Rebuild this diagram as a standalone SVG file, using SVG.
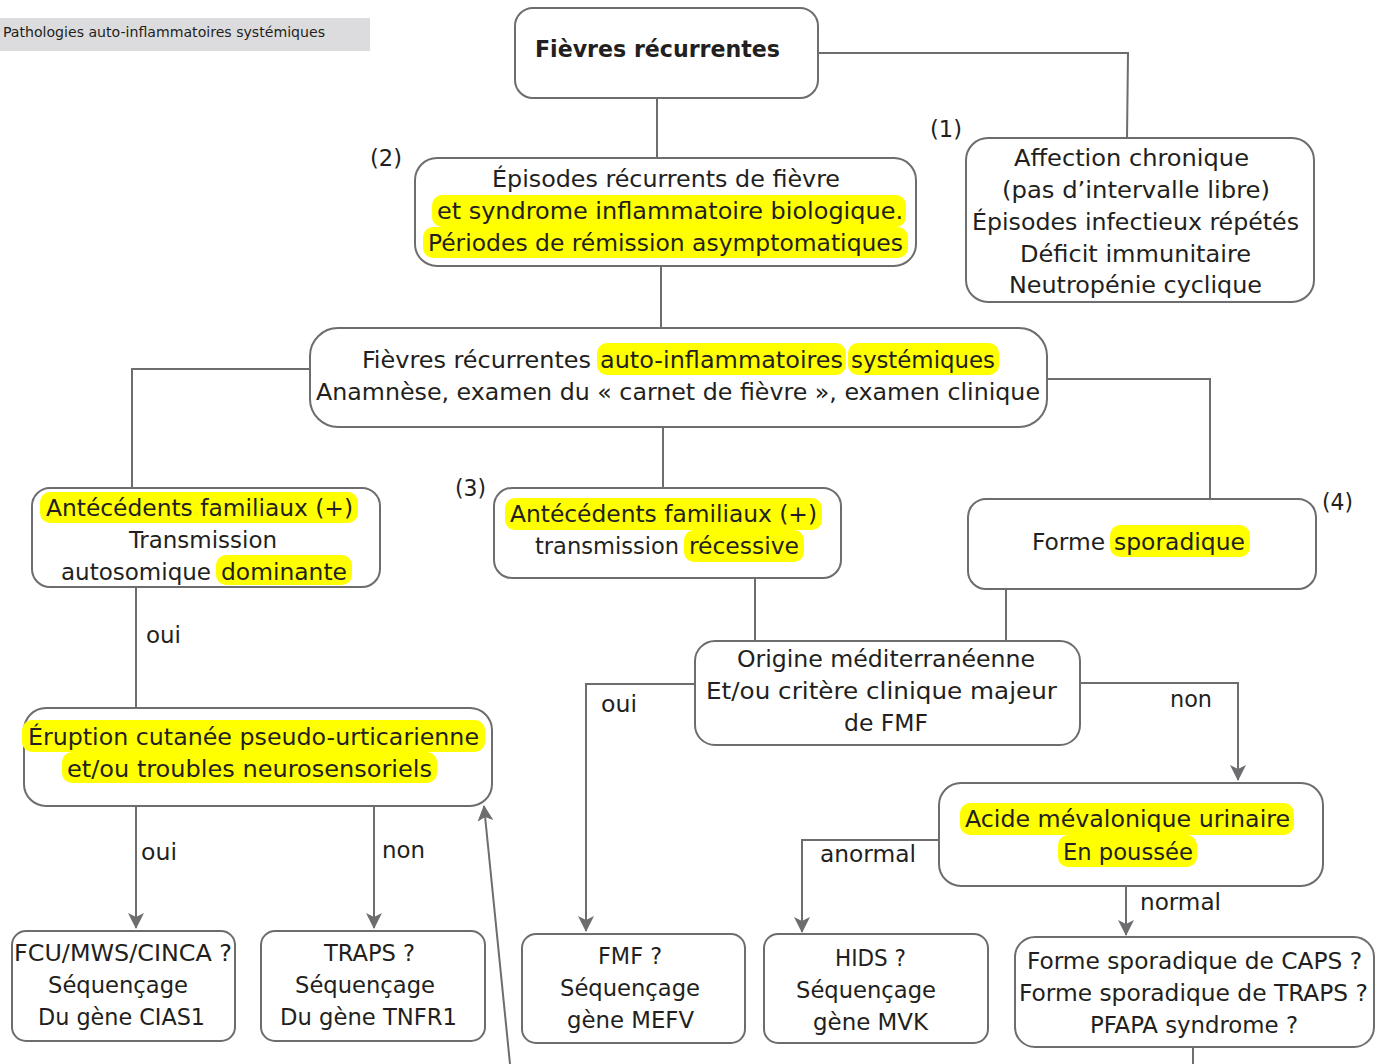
<svg xmlns="http://www.w3.org/2000/svg" width="1375" height="1064" viewBox="0 0 1375 1064">
<style>
.box{fill:#fff;stroke:#6d6d70;stroke-width:2}
.ln{fill:none;stroke:#6d6d70;stroke-width:2}
.hl{fill:#ffff00}
text{font-family:"DejaVu Sans Condensed","DejaVu Sans",sans-serif;font-size:23px;fill:#231f20}
.b{font-weight:bold}
.sm{font-size:14px}
</style>
<defs>
<marker id="ah2" viewBox="0 0 16 16" refX="15" refY="8" markerWidth="16" markerHeight="16" markerUnits="userSpaceOnUse" orient="auto">
<path d="M0,0 L16,8 L0,16 L4,8 Z" fill="#6d6d70"/>
</marker>
</defs>
<rect x="0" y="18" width="370" height="33" fill="#dcdcde"/>
<text class="sm" x="3" y="37" textLength="322" lengthAdjust="spacingAndGlyphs">Pathologies auto-inflammatoires systémiques</text>
<g id="connectors">
<path class="ln" d="M818,53 H1128 L1127,138"/>
<path class="ln" d="M657,98 V158"/>
<path class="ln" d="M661,266 V328"/>
<path class="ln" d="M310,369 H132 V488"/>
<path class="ln" d="M1047,379 H1210 V499"/>
<path class="ln" d="M663,427 V488"/>
<path class="ln" d="M136,587 V708"/>
<path class="ln" d="M136,806 V928" marker-end="url(#ah2)"/>
<path class="ln" d="M374,806 V928" marker-end="url(#ah2)"/>
<path class="ln" d="M510,1064 L484,806" marker-end="url(#ah2)"/>
<path class="ln" d="M755,578 V641"/>
<path class="ln" d="M1006,589 V641"/>
<path class="ln" d="M695,684 H586 V931" marker-end="url(#ah2)"/>
<path class="ln" d="M1080,683 H1238 V780" marker-end="url(#ah2)"/>
<path class="ln" d="M939,840 H802 V932" marker-end="url(#ah2)"/>
<path class="ln" d="M1126,886 V935" marker-end="url(#ah2)"/>
<path class="ln" d="M1193,1047 V1064"/>
<text x="146" y="643" textLength="35" lengthAdjust="spacingAndGlyphs">oui</text>
<text x="141" y="860" textLength="36" lengthAdjust="spacingAndGlyphs">oui</text>
<text x="382" y="858" textLength="43" lengthAdjust="spacingAndGlyphs">non</text>
<text x="601" y="712" textLength="36" lengthAdjust="spacingAndGlyphs">oui</text>
<text x="1170" y="707" textLength="42" lengthAdjust="spacingAndGlyphs">non</text>
<text x="820" y="862" textLength="96" lengthAdjust="spacingAndGlyphs">anormal</text>
<text x="1140" y="910" textLength="81" lengthAdjust="spacingAndGlyphs">normal</text>
<text x="370" y="166" textLength="32" lengthAdjust="spacingAndGlyphs">(2)</text>
<text x="930" y="137" textLength="32" lengthAdjust="spacingAndGlyphs">(1)</text>
<text x="455" y="496" textLength="31" lengthAdjust="spacingAndGlyphs">(3)</text>
<text x="1322" y="510" textLength="31" lengthAdjust="spacingAndGlyphs">(4)</text>
</g>
<g id="n-fievres">
<rect class="box" x="515" y="8" width="303" height="90" rx="18"/>
<text class="b" x="535" y="57" textLength="245" lengthAdjust="spacingAndGlyphs">Fièvres récurrentes</text>
</g>
<g id="n-episodes">
<rect class="box" x="415" y="158" width="501" height="108" rx="22"/>
<rect class="hl" x="432" y="195" width="474" height="32" rx="10"/>
<rect class="hl" x="423" y="227" width="485" height="31" rx="10"/>
<text x="492" y="187" textLength="348" lengthAdjust="spacingAndGlyphs">Épisodes récurrents de fièvre</text>
<text x="437" y="219" textLength="466" lengthAdjust="spacingAndGlyphs">et syndrome inflammatoire biologique.</text>
<text x="428" y="251" textLength="475" lengthAdjust="spacingAndGlyphs">Périodes de rémission asymptomatiques</text>
</g>
<g id="n-chronique">
<rect class="box" x="966" y="138" width="348" height="164" rx="22"/>
<text x="1014" y="166" textLength="235" lengthAdjust="spacingAndGlyphs">Affection chronique</text>
<text x="1002" y="198" textLength="268" lengthAdjust="spacingAndGlyphs">(pas d’intervalle libre)</text>
<text x="972" y="230" textLength="327" lengthAdjust="spacingAndGlyphs">Épisodes infectieux répétés</text>
<text x="1020" y="262" textLength="231" lengthAdjust="spacingAndGlyphs">Déficit immunitaire</text>
<text x="1009" y="293" textLength="253" lengthAdjust="spacingAndGlyphs">Neutropénie cyclique</text>
</g>
<g id="n-autoinfl">
<rect class="box" x="310" y="328" width="737" height="99" rx="28"/>
<rect class="hl" x="597" y="343" width="249" height="32" rx="10"/>
<rect class="hl" x="848" y="343" width="151" height="32" rx="10"/>
<text x="362" y="368" textLength="229" lengthAdjust="spacingAndGlyphs">Fièvres récurrentes</text>
<text x="600" y="368" textLength="243" lengthAdjust="spacingAndGlyphs">auto-inflammatoires</text>
<text x="851" y="368" textLength="144" lengthAdjust="spacingAndGlyphs">systémiques</text>
<text x="316" y="400" textLength="724" lengthAdjust="spacingAndGlyphs">Anamnèse, examen du « carnet de fièvre », examen clinique</text>
</g>
<g id="n-dominante">
<rect class="box" x="32" y="488" width="348" height="99" rx="18"/>
<rect class="hl" x="40" y="492" width="318" height="31" rx="10"/>
<rect class="hl" x="216" y="555" width="136" height="30" rx="10"/>
<text x="46" y="516" textLength="307" lengthAdjust="spacingAndGlyphs">Antécédents familiaux (+)</text>
<text x="129" y="548" textLength="148" lengthAdjust="spacingAndGlyphs">Transmission</text>
<text x="61" y="580" textLength="150" lengthAdjust="spacingAndGlyphs">autosomique</text>
<text x="221" y="580" textLength="126" lengthAdjust="spacingAndGlyphs">dominante</text>
</g>
<g id="n-recessive">
<rect class="box" x="494" y="488" width="347" height="90" rx="18"/>
<rect class="hl" x="505" y="498" width="317" height="32" rx="10"/>
<rect class="hl" x="684" y="530" width="120" height="32" rx="10"/>
<text x="510" y="522" textLength="307" lengthAdjust="spacingAndGlyphs">Antécédents familiaux (+)</text>
<text x="535" y="554" textLength="144" lengthAdjust="spacingAndGlyphs">transmission</text>
<text x="689" y="554" textLength="110" lengthAdjust="spacingAndGlyphs">récessive</text>
</g>
<g id="n-sporadique">
<rect class="box" x="968" y="499" width="348" height="90" rx="18"/>
<rect class="hl" x="1110" y="525" width="140" height="32" rx="10"/>
<text x="1032" y="550" textLength="73" lengthAdjust="spacingAndGlyphs">Forme</text>
<text x="1114" y="550" textLength="131" lengthAdjust="spacingAndGlyphs">sporadique</text>
</g>
<g id="n-eruption">
<rect class="box" x="24" y="708" width="468" height="98" rx="22"/>
<rect class="hl" x="22" y="720" width="463" height="32" rx="10"/>
<rect class="hl" x="62" y="752" width="375" height="31" rx="10"/>
<text x="28" y="745" textLength="451" lengthAdjust="spacingAndGlyphs">Éruption cutanée pseudo-urticarienne</text>
<text x="67" y="777" textLength="365" lengthAdjust="spacingAndGlyphs">et/ou troubles neurosensoriels</text>
</g>
<g id="n-origine">
<rect class="box" x="695" y="641" width="385" height="104" rx="20"/>
<text x="737" y="667" textLength="298" lengthAdjust="spacingAndGlyphs">Origine méditerranéenne</text>
<text x="706" y="699" textLength="351" lengthAdjust="spacingAndGlyphs">Et/ou critère clinique majeur</text>
<text x="844" y="731" textLength="84" lengthAdjust="spacingAndGlyphs">de FMF</text>
</g>
<g id="n-acide">
<rect class="box" x="939" y="783" width="384" height="103" rx="22"/>
<rect class="hl" x="960" y="803" width="334" height="32" rx="10"/>
<rect class="hl" x="1058" y="835" width="139" height="32" rx="10"/>
<text x="965" y="827" textLength="325" lengthAdjust="spacingAndGlyphs">Acide mévalonique urinaire</text>
<text x="1063" y="860" textLength="130" lengthAdjust="spacingAndGlyphs">En poussée</text>
</g>
<g id="n-fcu">
<rect class="box" x="12" y="931" width="223" height="110" rx="14"/>
<text x="14" y="961" textLength="218" lengthAdjust="spacingAndGlyphs">FCU/MWS/CINCA ?</text>
<text x="48" y="993" textLength="140" lengthAdjust="spacingAndGlyphs">Séquençage</text>
<text x="38" y="1025" textLength="167" lengthAdjust="spacingAndGlyphs">Du gène CIAS1</text>
</g>
<g id="n-traps">
<rect class="box" x="261" y="931" width="224" height="110" rx="14"/>
<text x="324" y="961" textLength="91" lengthAdjust="spacingAndGlyphs">TRAPS ?</text>
<text x="295" y="993" textLength="140" lengthAdjust="spacingAndGlyphs">Séquençage</text>
<text x="280" y="1025" textLength="177" lengthAdjust="spacingAndGlyphs">Du gène TNFR1</text>
</g>
<g id="n-fmf">
<rect class="box" x="522" y="934" width="223" height="109" rx="14"/>
<text x="598" y="964" textLength="64" lengthAdjust="spacingAndGlyphs">FMF ?</text>
<text x="560" y="996" textLength="140" lengthAdjust="spacingAndGlyphs">Séquençage</text>
<text x="567" y="1028" textLength="127" lengthAdjust="spacingAndGlyphs">gène MEFV</text>
</g>
<g id="n-hids">
<rect class="box" x="764" y="934" width="224" height="109" rx="14"/>
<text x="835" y="966" textLength="71" lengthAdjust="spacingAndGlyphs">HIDS ?</text>
<text x="796" y="998" textLength="140" lengthAdjust="spacingAndGlyphs">Séquençage</text>
<text x="813" y="1030" textLength="115" lengthAdjust="spacingAndGlyphs">gène MVK</text>
</g>
<g id="n-formes">
<rect class="box" x="1015" y="937" width="359" height="110" rx="20"/>
<text x="1027" y="969" textLength="335" lengthAdjust="spacingAndGlyphs">Forme sporadique de CAPS ?</text>
<text x="1019" y="1001" textLength="349" lengthAdjust="spacingAndGlyphs">Forme sporadique de TRAPS ?</text>
<text x="1090" y="1033" textLength="208" lengthAdjust="spacingAndGlyphs">PFAPA syndrome ?</text>
</g>
</svg>
